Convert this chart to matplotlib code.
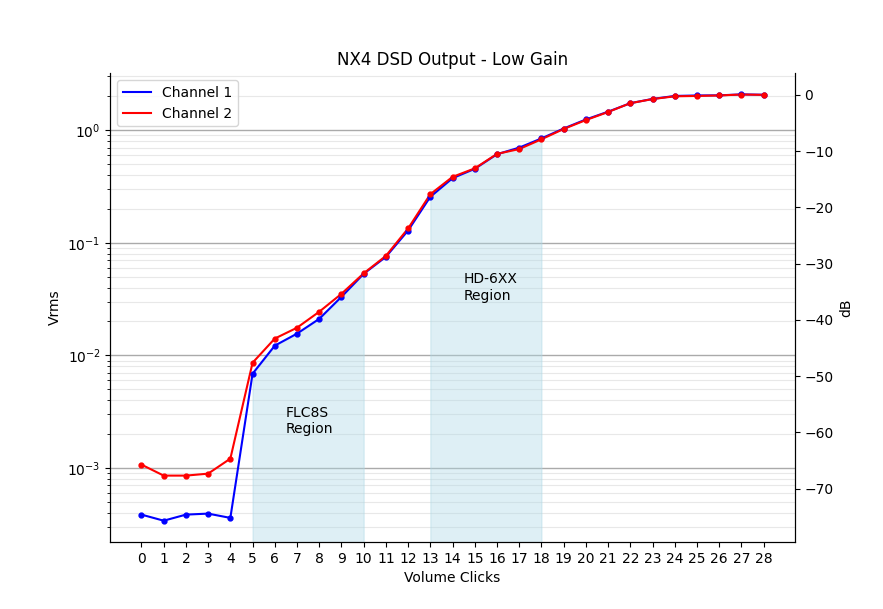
#!/usr/bin/env python3
import matplotlib
matplotlib.use('Agg')
import matplotlib.pyplot as plt
import numpy as np

# volume clicks and measured output (Vrms)
clicks = list(range(29))
ch1_vrms = [3.85e-4, 3.40e-4, 3.85e-4, 3.93e-4, 3.60e-4,
            6.87e-3, 0.0122, 0.0156, 0.0211, 0.0331,
            0.0530, 0.0750, 0.1285, 0.256, 0.375,
            0.454, 0.612, 0.700, 0.845, 1.035,
            1.245, 1.460, 1.737, 1.896, 2.015,
            2.035, 2.040, 2.080, 2.065]
ch2_vrms = [1.07e-3, 8.55e-4, 8.55e-4, 8.90e-4, 1.21e-3,
            8.60e-3, 0.0141, 0.0176, 0.0244, 0.0352,
            0.0535, 0.0765, 0.134, 0.270, 0.385,
            0.458, 0.616, 0.680, 0.830, 1.025,
            1.230, 1.450, 1.737, 1.890, 2.000,
            2.015, 2.035, 2.075, 2.060]

regions = [(5, 10, 'FLC8S\nRegion', 6.5, 2.6e-3),
           (13, 18, 'HD-6XX\nRegion', 14.5, 0.040)]

fig, ax = plt.subplots(figsize=(8.83, 6.09), dpi=100)
ax.plot(clicks, ch1_vrms, color='blue', label='Channel 1')
ax.plot(clicks, ch2_vrms, color='red', label='Channel 2')
ax.plot(clicks, ch1_vrms, 'o', color='blue', markersize=3.5)
ax.plot(clicks, ch2_vrms, 'o', color='red', markersize=3.5)
ax.set_yscale('log')
ylim = ax.get_ylim()

x = np.array(clicks)
y1 = np.array(ch1_vrms)
for lo, hi, label, tx, ty in regions:
    m = (x >= lo) & (x <= hi)
    ax.fill_between(x[m], ylim[0], y1[m], color='lightblue', alpha=0.4)
    ax.text(tx, ty, label, va='center', ha='left')
ax.set_ylim(ylim)

ax.set_xticks(clicks)
ax.yaxis.grid(True, which='major', color='#aaaaaa', linewidth=1)
ax.yaxis.grid(True, which='minor', color='#e8e8e8', linewidth=0.8)
ax.set_axisbelow(True)
ax.set_xlabel('Volume Clicks')
ax.set_ylabel('Vrms')
ax.set_title('NX4 DSD Output - Low Gain')
ax.legend(loc='upper left')
ax.spines['top'].set_visible(False)

# right axis in dB relative to full output
ref = ch1_vrms[-1]
ax2 = ax.twinx()
ax2.set_ylim(20 * np.log10(ylim[0] / ref), 20 * np.log10(ylim[1] / ref))
ax2.set_ylabel('dB')
ax2.spines['top'].set_visible(False)

plt.savefig('out.png', dpi=100)
